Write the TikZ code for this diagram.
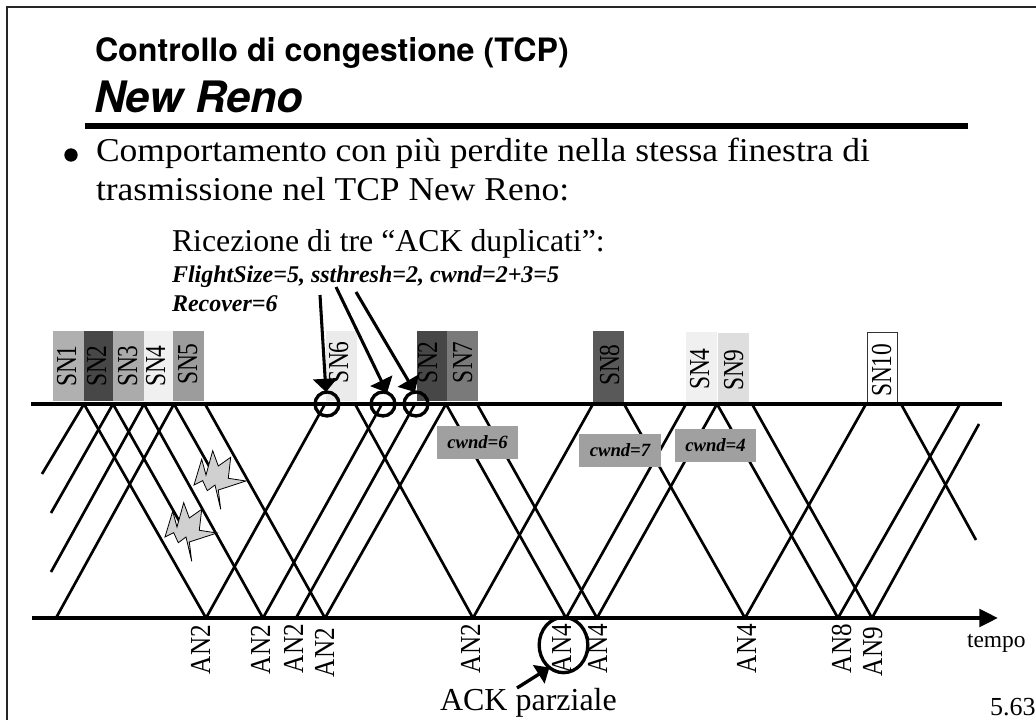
\documentclass[tikz,border=0pt]{standalone}
\usepackage{fontspec}
\usetikzlibrary{arrows.meta,shapes.geometric}
\setmainfont{Liberation Serif}
\newfontfamily\heros{TeX Gyre Heros}
\newfontfamily\palat[FakeStretch=1.065]{Liberation Serif}
\newfontfamily\sncond[FakeStretch=0.81]{Liberation Serif}
\newfontfamily\ancond[FakeStretch=0.87]{Liberation Serif}
\tikzset{
  lbl/.style={inner sep=0pt,outer sep=0pt,anchor=base west},
  sn/.style={lbl,rotate=90,font=\sncond\fontsize{21.7}{21.7}\selectfont},
  an/.style={lbl,rotate=90,font=\ancond\fontsize{21.7}{21.7}\selectfont},
  sig/.style={line width=2pt,black},
  axisl/.style={line width=3pt,black},
  ring/.style={circle,draw=black,line width=2.5pt,minimum size=18pt,inner sep=0pt,outer sep=0pt},
  pointer/.style={line width=2.3pt,black,-{Triangle[length=10pt,width=18pt]}},
  cw/.style={fill=cwgray,inner sep=0pt,minimum width=61pt,minimum height=24.5pt,font=\fontsize{14}{14}\selectfont\bfseries\itshape},
  starshape/.style={draw=black,line width=0.6pt,fill=stargray},
}
\definecolor{cwgray}{HTML}{A0A0A0}
\definecolor{stargray}{HTML}{D0D0D0}
\begin{document}
\begin{tikzpicture}[x=0.75pt,y=-0.75pt]
\useasboundingbox (0,0) rectangle (1036,720);
% frame
\coordinate (fa) at (7,720); \coordinate (fb) at (7,7); \coordinate (fc) at (1036,7);
\draw[line width=0.8pt,black!85] (fa) -- (fb) -- (fc);
% titles
\node[lbl,font=\heros\fontsize{24.15}{24}\selectfont\bfseries] (title1) at (95,62) {Controllo di congestione (TCP)};
\node[lbl,font=\heros\fontsize{32.5}{32}\selectfont\bfseries\itshape] (title2) at (94,113) {New Reno};
\coordinate (ra) at (84.5,126); \coordinate (rb) at (968,126);
\draw[line width=3.8pt] (ra) -- (rb);
\node[circle,fill=black,minimum size=10pt,inner sep=0pt] (bullet) at (71,155) {};
\node[lbl,font=\palat\fontsize{25}{25}\selectfont] (l1) at (96,162) {Comportamento con più perdite nella stessa finestra di};
\node[lbl,font=\palat\fontsize{25}{25}\selectfont] (l2) at (96,201) {trasmissione nel TCP New Reno:};
\node[lbl,font=\fontsize{23.85}{24}\selectfont] (ric) at (172,252) {Ricezione di tre “ACK duplicati”:};
\node[lbl,font=\fontsize{18}{18}\selectfont\bfseries\itshape] (fl) at (172,283) {FlightSize=5, ssthresh=2, cwnd=2+3=5};
\node[lbl,font=\fontsize{18}{18}\selectfont\bfseries\itshape] (rec) at (172,312) {Recover=6};
% segment boxes
\fill[black!31] (53,331) rectangle (84,401);
\fill[black!72] (84,331) rectangle (113,401);
\fill[black!33] (113,331) rectangle (144,401);
\fill[black!6] (144,331) rectangle (173,401);
\fill[black!39] (173,331) rectangle (204,401);
\fill[black!8] (326,331) rectangle (357,401);
\fill[black!72] (417,331) rectangle (447,401);
\fill[black!52] (447,331) rectangle (478,401);
\fill[black!65] (593,331) rectangle (624,402);
\fill[black!6] (686,332) rectangle (717,402);
\fill[black!13] (718,333) rectangle (749,402);
\draw[line width=0.6pt,black!80] (867,332) rectangle (897,402);
\node[sn] (s1) at (76,387) {SN1};
\node[sn] (s2) at (106,387) {SN2};
\node[sn] (s3) at (137,387) {SN3};
\node[sn] (s4) at (165,387) {SN4};
\node[sn] (s5) at (197,385) {SN5};
\node[sn] (s6) at (348,383) {SN6};
\node[sn] (s2b) at (437,383) {SN2};
\node[sn] (s7) at (472,383) {SN7};
\node[sn] (s8) at (619,386) {SN8};
\node[sn] (s4b) at (709,390) {SN4};
\node[sn] (s9) at (743,391) {SN9};
\node[sn] (s10) at (891,397) {SN10};
% endpoints on the two time lines
\foreach \x in {84,113,144,174,205,325,355,382,415,446,477,593,624,686,717,752,866,901,960}
  \coordinate (t\x) at (\x,404);
\foreach \x in {56,206,263,296,325,473,566,597,745,838,872}
  \coordinate (b\x) at (\x,618);
% free ends
\coordinate (f1) at (42,474); \coordinate (f2) at (51,513); \coordinate (f3) at (51,572);
\coordinate (f4) at (979,424); \coordinate (f5) at (976,540);
\coordinate (g1) at (186,533); \coordinate (g2) at (217,480);
% descending
\draw[sig] (t84) -- (b206);
\draw[sig] (t113) -- (g1);
\draw[sig] (t144) -- (b263);
\draw[sig] (t174) -- (g2);
\draw[sig] (t205) -- (b325);
\draw[sig] (t355) -- (b473);
\draw[sig] (t446) -- (b566);
\draw[sig] (t477) -- (b597);
\draw[sig] (t624) -- (b745);
\draw[sig] (t717) -- (b838);
\draw[sig] (t752) -- (b872);
\draw[sig] (t901) -- (f5);
% ascending
\draw[sig] (f1) -- (t84);
\draw[sig] (f2) -- (t113);
\draw[sig] (f3) -- (t144);
\draw[sig] (b56) -- (t174);
\draw[sig] (b206) -- (t325);
\draw[sig] (b263) -- (t382);
\draw[sig] (b296) -- (t415);
\draw[sig] (b325) -- (t446);
\draw[sig] (b473) -- (t593);
\draw[sig] (b566) -- (t686);
\draw[sig] (b597) -- (t717);
\draw[sig] (b745) -- (t866);
\draw[sig] (b838) -- (t960);
\draw[sig] (b872) -- (f4);
% axes
\coordinate (ta) at (31,404); \coordinate (tb) at (1002,404);
\coordinate (ba) at (32,618); \coordinate (bb) at (998,618);
\draw[axisl] (ta) -- (tb);
\draw[axisl,-{Triangle[length=14pt,width=13pt]}] (ba) -- (bb);
% lost-segment marks
\def\starpts{(194,485) -- (201.7,459.3) -- (206,475) -- (212.7,450.7) -- (218.3,466) -- (230.7,457.3) -- (228.3,478.3) -- (246,481) -- (218.3,490) -- (220.7,509.3) -- (215,485) -- (207.3,490.7) -- (202.7,480.7) -- cycle}
\draw[starshape] \starpts;
\begin{scope}[shift={(-29,52)}]
\draw[starshape] \starpts;
\end{scope}
% cwnd labels
\node[cw] (cw6) at (477.5,442.5) {cwnd=6};
\node[cw] (cw7) at (620,450.5) {cwnd=7};
\node[cw] (cw4) at (715.5,445.5) {cwnd=4};
% circles and pointers
\node[ring] (c1) at (327,404) {};
\node[ring] (c2) at (383,404) {};
\node[ring] (c3) at (416,404) {};
\coordinate (p1) at (320,295); \coordinate (p2) at (336,287); \coordinate (p3) at (356,292);
\draw[pointer] (p1) -- (c1.95);
\draw[pointer] (p2) -- (c2.70);
\draw[pointer] (p3) -- (c3.95);
% acks
\node[an] (a1) at (210,674) {AN2};
\node[an] (a2) at (270,674) {AN2};
\node[an] (a3) at (303,673) {AN2};
\node[an] (a4) at (334,677) {AN2};
\node[an] (a5) at (480,673) {AN2};
\node[an] (a6) at (571,673) {AN4};
\node[an] (a7) at (607,673) {AN4};
\node[an] (a8) at (756,673) {AN4};
\node[an] (a9) at (851,673) {AN8};
\node[an] (a10) at (882,676) {AN9};
\node[ellipse,draw=black,line width=2.5pt,minimum width=36.5pt,minimum height=41.5pt,inner sep=0pt,outer sep=0pt] (ell) at (563.5,645) {};
\coordinate (ap) at (517,688);
\draw[line width=2.5pt,-{Triangle[length=9.5pt,width=16pt]}] (ap) -- (ell.238);
\node[lbl,font=\fontsize{24}{24}\selectfont] (ack) at (440,710) {ACK parziale};
\node[lbl,font=\fontsize{17.6}{17.6}\selectfont] (tempo) at (967,647) {tempo};
\node[lbl,font=\fontsize{19.5}{19.5}\selectfont] (page) at (990,715) {5.63};
\end{tikzpicture}
\end{document}
